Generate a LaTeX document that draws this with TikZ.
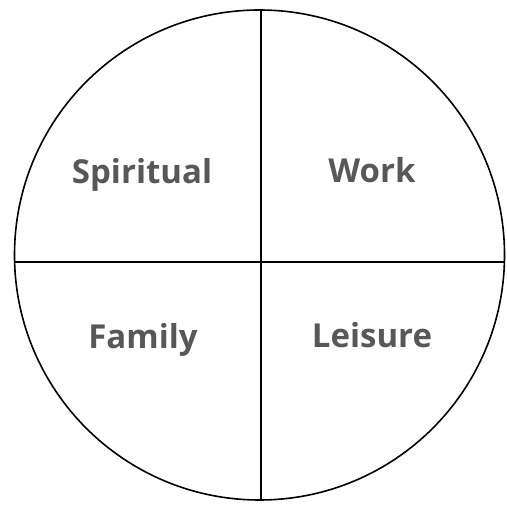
\documentclass[tikz,border=0pt]{standalone}
\usepackage{fontspec}
\setmainfont{Open Sans}
\usetikzlibrary{positioning}
\definecolor{wheelgrey}{RGB}{88,88,88}
\tikzset{
    wheelline/.style={draw=black, line width=1.6pt},
    sectorlabel/.style={font=\fontsize{33}{36}\selectfont\bfseries, text=wheelgrey, anchor=base, inner sep=0pt}
}
\begin{document}
\begin{tikzpicture}[x=1pt,y=1pt]
    \useasboundingbox (0,0) rectangle (506,508);
    % outer circle and the two dividing lines
    \draw[wheelline] (259.5,253) circle (245);
    \coordinate (top) at (261,497.9);
    \coordinate (bottom) at (261,8.1);
    \coordinate (left) at (14.6,246);
    \coordinate (right) at (504.4,246);
    \draw[wheelline] (top) -- (bottom);
    \draw[wheelline] (left) -- (right);
    % quadrant labels
    \node[sectorlabel] (spiritual) at (142,324) {Spiritual};
    \node[sectorlabel] (work) at (372,325) {Work};
    \node[sectorlabel] (family) at (143,159) {Family};
    \node[sectorlabel] (leisure) at (372,160) {Leisure};
\end{tikzpicture}
\end{document}
